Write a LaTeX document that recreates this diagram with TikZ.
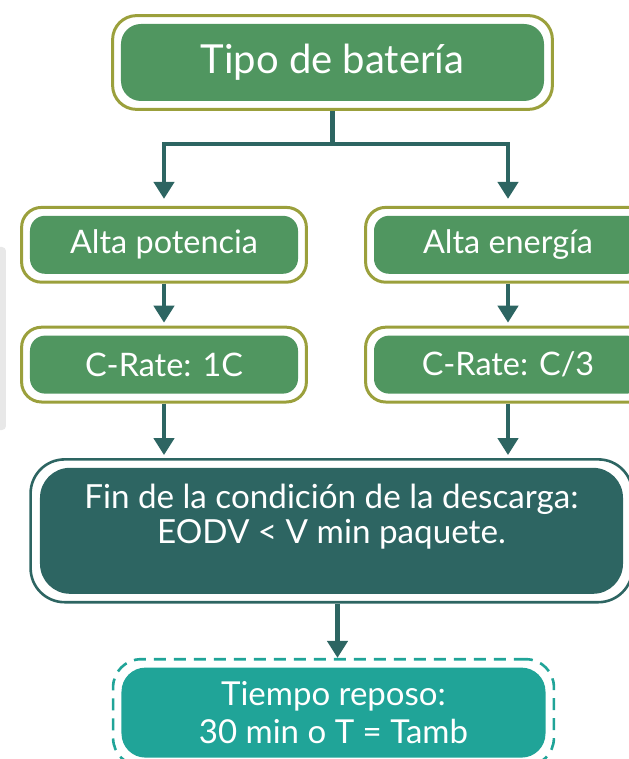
\documentclass[tikz,border=0pt]{standalone}
\usepackage{fontspec}
\setmainfont{Lato}
\usepackage{xcolor}
\newlength{\hdist}
\newlength{\vdist}
\newlength{\vdistshort}
\usepackage{tikz}
\usetikzlibrary{positioning}
\usetikzlibrary{fit}
\usetikzlibrary{arrows.meta}
\definecolor{leafgreen}{RGB}{80,150,96}
\definecolor{oliveline}{RGB}{155,160,60}
\definecolor{darkteal}{RGB}{45,101,98}
\definecolor{seateal}{RGB}{32,164,152}
\definecolor{sidegrey}{RGB}{232,232,232}
\tikzstyle{greenbox}=[fill=leafgreen, rounded corners=7.5pt, minimum width=134pt, minimum height=29pt, font=\fontsize{16.2}{18}\selectfont]
\tikzstyle{plate}=[draw=oliveline, rectangle, rounded corners=10pt, line width=1.5pt, inner sep=4pt]
\tikzstyle{link}=[draw=darkteal, line width=2.25pt, -{Triangle[width=10pt,length=8.5pt]}]

\begin{document}
\begin{tikzpicture}[inner sep=0pt, text=white, align=center]

				\setlength{\hdist}{84.25pt}
				\setlength{\vdist}{57pt}
				\setlength{\vdistshort}{30.5pt}

				\useasboundingbox (-166.25pt,31.25pt) rectangle (147.75pt,-348.25pt);
				\fill [sidegrey, rounded corners=2pt] (-170pt,-92.25pt) rectangle (-163.25pt,-183.75pt);

				\node (top) [greenbox, rounded corners=10pt, minimum width=211.5pt, minimum height=38.5pt, font=\fontsize{20}{24}\selectfont] at (0,0) {Tipo de batería};
				%
				\node (pot) [greenbox, below=\vdist of top, xshift=-\hdist] {Alta potencia};
				\node (ener) [greenbox, below=\vdist of top, xshift=87.75pt] {Alta energía};
				\node (rate1) [greenbox, below=\vdistshort of pot] {C-Rate: 1C};
				\node (rate3) [greenbox, below=\vdistshort of ener] {C-Rate: C/3};

				\node (cond) [fill=darkteal, rounded corners=15pt, minimum width=291.5pt, text height=38pt, text depth=25pt, below=183pt of top, xshift=-0.5pt, font=\fontsize{16.6}{17.5}\selectfont] {Fin de la condición de la descarga:\\EODV < V min paquete.};
				\node (rest) [fill=seateal, rounded corners=12pt, minimum width=212pt, minimum height=45pt, below=36.5pt of cond, xshift=1pt, font=\fontsize{16.5}{19}\selectfont] {Tiempo reposo:\\30 min o T = Tamb};

				\node (topplate) [plate, rounded corners=12pt, fit=(top)] {};
				\node (potplate) [plate, fit=(pot)] {};
				\node (enerplate) [plate, fit=(ener)] {};
				\node (rate1plate) [plate, fit=(rate1)] {};
				\node (rate3plate) [plate, fit=(rate3)] {};
				\node (condplate) [plate, draw=darkteal, line width=1.3pt, rounded corners=17pt, inner xsep=4.5pt, fit=(cond)] {};
				\node (restplate) [plate, draw=seateal, line width=1.3pt, dash pattern=on 6pt off 4pt, rounded corners=14pt, fit=(rest)] {};

				\coordinate [below=16.5pt of topplate.south] (split);
				\draw [link, -] (topplate.south) -- (split);
				\draw [link, shorten >=3.5pt] (split) -| (potplate.north);
				\draw [link, shorten >=3.5pt] (split) -| (enerplate.north);
				\draw [link, shorten >=1.5pt] (potplate) -- (rate1plate);
				\draw [link, shorten >=1.5pt] (enerplate) -- (rate3plate);
				\draw [link, shorten >=1.5pt] (rate1plate) -- (rate1plate.south |- condplate.north);
				\draw [link, shorten >=1.5pt] (rate3plate) -- (rate3plate.south |- condplate.north);
				\draw [link] (condplate.south -| restplate.north) ++(2pt,0) -- ([xshift=2pt]restplate.north);
\end{tikzpicture}
\end{document}
